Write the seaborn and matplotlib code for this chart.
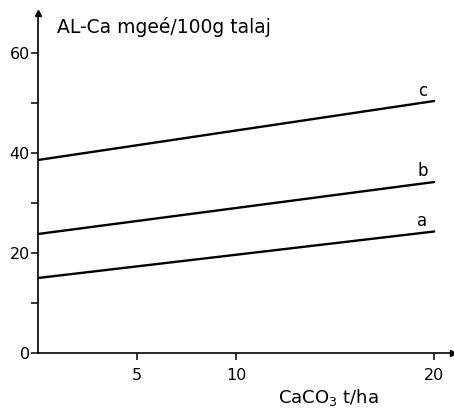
import matplotlib
matplotlib.use("Agg")
import matplotlib.pyplot as plt
import seaborn as sns
import pandas as pd

# Data
caco3 = [0, 20]                 # CaCO3 t/ha
series_names = ["a", "b", "c"]
a_vals = [15.0, 24.3]
b_vals = [23.8, 34.2]
c_vals = [38.6, 50.4]
x_ticks = [5, 10, 20]
y_major = [0, 20, 40, 60]
y_minor = [10, 30, 50]

sns.set_style("ticks")
plt.rcParams["font.family"] = ["DejaVu Sans"]
plt.rcParams["text.color"] = "black"

rows = []
for name, vals in zip(series_names, [a_vals, b_vals, c_vals]):
    for x, y in zip(caco3, vals):
        rows.append({"x": x, "y": y, "s": name})
df = pd.DataFrame(rows)

fig = plt.figure(figsize=(4.54, 4.09), dpi=100)
W, H = 454, 409
left, right, bottom, top = 38, 453, 409 - 353, 409 - 13
ax = fig.add_axes([left / W, bottom / H, (right - left) / W, (top - bottom) / H])

sns.lineplot(data=df, x="x", y="y", hue="s", palette=["black"] * 3,
             linewidth=1.7, legend=False, ax=ax)

ax.set_xlim(0, 20.95)
ax.set_ylim(0, 68)
ax.set_xticks(x_ticks)
ax.set_xticklabels([str(t) for t in x_ticks])
ax.set_yticks(y_major)
ax.set_yticklabels([str(t) for t in y_major])
ax.set_yticks(y_minor, minor=True)
ax.tick_params(axis="both", which="both", direction="out", length=5, width=1.1,
               colors="black", labelsize=11.5, pad=1)
ax.tick_params(axis="x", pad=6)
ax.set_xlabel("")
ax.set_ylabel("")
sns.despine(ax=ax)
for sp in ["left", "bottom"]:
    ax.spines[sp].set_linewidth(1.2)
    ax.spines[sp].set_color("black")

# axis arrows
ax.plot(1, 0, ">k", markersize=4, transform=ax.get_yaxis_transform(), clip_on=False)
ax.plot(0, 1, "^k", markersize=4, transform=ax.get_xaxis_transform(), clip_on=False)

# line labels
for name, vals in zip(series_names, [a_vals, b_vals, c_vals]):
    ax.text(19.4, vals[-1] + 0.3, name, fontsize=12, ha="center", va="bottom",
            color="black")

# axis titles
fig.text(57 / W, 1 - 27 / H, "AL-Ca mgeé/100g talaj", fontsize=13.5,
         ha="left", va="center", color="black")
fig.text(278 / W, 1 - 398 / H, "CaCO$_3$ t/ha", fontsize=13,
         ha="left", va="center", color="black")

fig.savefig("out.png", dpi=100)
